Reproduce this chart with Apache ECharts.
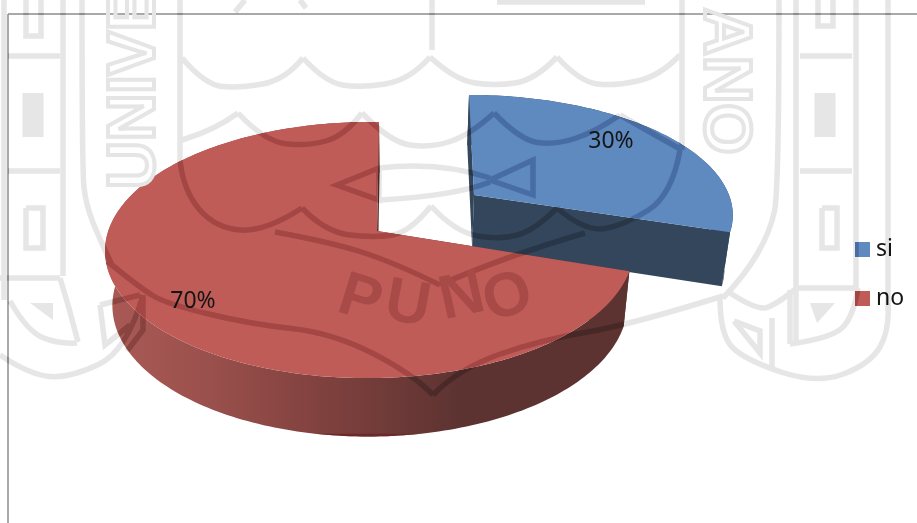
<!DOCTYPE html>
<html>
<head>
<meta charset="utf-8">
<style>html,body{margin:0;padding:0;background:#fff}#c{width:917px;height:523px}</style>
<script src="https://cdn.jsdelivr.net/npm/echarts@6/dist/echarts.min.js"></script>
</head>
<body>
<div id="c"></div>
<script>
// Survey answers, in percent
const categories = ['si', 'no'];
const values = [30, 70];
const total = values[0] + values[1];

// Projection of each exploded slice onto the page
const sliceLayout = [
  { ax: 474, ay: 195, A: 255, B: 5.74, C: 0, D: 114.9, p: 0.1485, q: 0, top: '#5e8ac0', wall: '#33465c', label: [611, 141] },
  { ax: 377, ay: 231, A: 261, B: -2.3, C: 0.7, D: 125.2, p: 0.1485, q: -0.028, top: '#c05c58', wall: null, label: [193, 301] }
];
const redWall = {
  type: 'linear', x: 0, y: 0, x2: 1, y2: 0,
  colorStops: [
    { offset: 0, color: '#aa5a56' }, { offset: 0.2, color: '#9a504c' },
    { offset: 0.4, color: '#82423f' }, { offset: 0.68, color: '#5c3331' }, { offset: 1, color: '#5c3331' }
  ]
};

function project(s, X, Z) {
  const w = 1 - s.p * Z - s.q * X;
  return [s.ax + (s.A * X + s.B * Z) / w, s.ay + (s.C * X + s.D * Z) / w];
}
// Lower face of the disc: same outline, moved down and slightly narrowed
function lower(pt) {
  return [pt[0] + (400 - pt[0]) * 0.025, pt[1] + 54 + 0.03 * (pt[1] - 231)];
}

function sliceShapes(index, value) {
  const s = sliceLayout[index];
  let before = 0;
  for (let i = 0; i < index; i++) before += values[i];
  const a0 = before / total * Math.PI * 2;
  const a1 = (before + value) / total * Math.PI * 2;
  const steps = Math.round((a1 - a0) / 0.02);
  const arc = [];
  for (let i = 0; i <= steps; i++) {
    const a = a0 + (a1 - a0) * i / steps;
    arc.push(project(s, Math.sin(a), -Math.cos(a)));
  }
  const apex = project(s, 0, 0);
  const fill = s.wall || redWall;
  const first = arc[0], last = arc[arc.length - 1];
  const poly = (pts, f) => ({ type: 'polygon', shape: { points: pts }, style: { fill: f } });
  const shapes = [
    poly([apex, first, lower(first), lower(apex)], s.wall || '#5c3331'),
    poly([apex, last, lower(last), lower(apex)], s.wall || '#5c3331'),
    poly(arc.concat(arc.map(lower).reverse()), fill)
  ];
  // Darker rim where the round side turns under, on the red disc only
  if (!s.wall) shapes.push(poly(arc.map(lower).filter(p => p[1] > 433), '#6b2a28'));
  shapes.push(
    poly([apex].concat(arc), s.top),
    {
      type: 'text', x: s.label[0], y: s.label[1],
      style: { text: value + '%', fill: '#151515', font: '23px "Noto Sans"', align: 'center', verticalAlign: 'middle' }
    }
  );
  return shapes;
}

const series = categories.map((name, i) => ({
  type: 'custom',
  name,
  coordinateSystem: 'none',
  silent: true,
  animation: false,
  itemStyle: { color: sliceLayout[i].top },
  data: [[values[i]]],
  renderItem: (params, api) => ({ type: 'group', children: sliceShapes(i, api.value(0)) })
}));

// Crest printed across the page: one path so crossings do not darken twice
const CrestLines = echarts.graphic.extendShape({
  shape: { curves: [], straights: [] },
  buildPath(ctx, shape) {
    shape.curves.forEach(l => {
      ctx.moveTo(l[0][0], l[0][1]);
      for (let i = 1; i < l.length - 1; i++) {
        const next = l[i + 1];
        const end = i === l.length - 2 ? next : [(l[i][0] + next[0]) / 2, (l[i][1] + next[1]) / 2];
        ctx.quadraticCurveTo(l[i][0], l[i][1], end[0], end[1]);
      }
    });
    shape.straights.forEach(l => {
      ctx.moveTo(l[0][0], l[0][1]);
      for (let i = 1; i < l.length; i++) ctx.lineTo(l[i][0], l[i][1]);
    });
  }
});
echarts.graphic.registerShape('crestLines', CrestLines);

const crestStraights = [
  // left column
  [[4, 0], [4, 300]], [[63, 0], [63, 276]], [[8, 56], [60, 56]], [[8, 171], [60, 171]], [[0, 278], [60, 278]],
  [[26, 0], [26, 36], [41, 36], [41, 0]],
  [[26, 208], [43, 208], [43, 248], [26, 248], [26, 208]],
  // right column
  [[796, 0], [796, 344]], [[856, 0], [856, 288]], [[888, 0], [888, 311]], [[800, 56], [852, 56]], [[800, 171], [852, 171]],
  [[818, 0], [818, 26], [833, 26], [833, 0]],
  [[822, 208], [837, 208], [837, 248], [822, 248], [822, 208]],
  // inner verticals
  [[180, 0], [180, 160]], [[682, 0], [682, 150]], [[432, 0], [432, 50]],
  // eye shapes
  [[379, 168], [337, 185], [379, 200], [379, 168]],
  [[490, 180], [533, 160], [533, 195], [490, 180]],
  // lower roundel details
  [[143, 295], [143, 330], [127, 351]],
  [[100, 305], [140, 295]], [[100, 305], [105, 345], [130, 325]],
  [[797, 288], [858, 288]], [[790, 290], [790, 344]],
  [[734, 321], [760, 331], [760, 353], [734, 321]],
  [[772, 318], [772, 370]],
  // scraps cut by the top edge
  [[235, 12], [245, 0]], [[300, 0], [306, 8]], [[497, 2], [645, 2]]
];
const crestCurves = [
  [[82, 0], [82, 170], [86, 205], [100, 240], [112, 265]],
  [[779, 0], [779, 190], [770, 232], [745, 275], [723, 298]],
  // upper scallops
  [[182, 58], [205, 85], [240, 88], [285, 80], [303, 58]],
  [[303, 58], [325, 82], [360, 88], [410, 80], [430, 57]],
  [[430, 57], [455, 80], [495, 86], [535, 80], [557, 57]],
  [[557, 57], [580, 82], [615, 86], [660, 76], [680, 55]],
  [[182, 140], [215, 130], [238, 113]],
  [[238, 113], [265, 142], [310, 146], [345, 135], [362, 113]],
  [[362, 113], [390, 142], [430, 148], [470, 135], [494, 113]],
  [[494, 113], [520, 140], [555, 145], [595, 132], [620, 115]],
  [[620, 115], [655, 135], [682, 150]],
  // lower scallops
  [[180, 160], [183, 190], [215, 228], [265, 232], [302, 208]],
  [[302, 208], [325, 232], [375, 238], [410, 232], [431, 206]],
  [[431, 206], [455, 232], [500, 240], [535, 230], [557, 208]],
  [[557, 208], [585, 232], [625, 225], [672, 195], [680, 150]],
  // cross bands through the middle
  [[275, 232], [330, 242], [393, 262], [440, 285]],
  [[440, 285], [500, 258], [585, 233]],
  // eye bands
  [[379, 168], [440, 161], [490, 178]], [[379, 200], [455, 196], [490, 182]],
  // long sweep round the lower disc
  [[107, 261], [140, 288], [167, 304], [250, 324], [333, 333], [413, 374], [433, 395]],
  [[433, 395], [458, 369], [540, 340], [630, 325], [723, 296]],
  // lower left roundel
  [[0, 355], [30, 375], [70, 378], [127, 351], [143, 295]],
  [[10, 301], [27, 331], [58, 344], [77, 343]],
  [[60, 278], [70, 310], [78, 342]],
  // lower right roundel
  [[720, 298], [720, 335], [745, 360], [817, 384], [870, 364], [890, 330], [888, 300]],
  [[727, 291], [757, 311], [777, 304], [797, 288]],
  [[790, 344], [834, 338], [854, 314], [858, 288]]
];
const crestBlocks = [
  [[33, 93], [33, 137]], [[825, 93], [825, 137]]
];
const crestWedges = [
  [[810, 303], [835, 303], [817, 323]], [[30, 303], [53, 303], [53, 320]]
];
const crestWords = [
  { text: 'UNIVE', x: 169, y: 189, r: Math.PI / 2, font: 'bold 66px "Liberation Sans"', outline: true },
  { text: 'ANO', x: 690, y: 8, r: -Math.PI / 2, font: 'bold 66px "Liberation Sans"', outline: true },
  { text: 'P', x: 331, y: 324, r: -0.3, font: 'bold 62px "Liberation Sans"' },
  { text: 'U', x: 380, y: 332, r: -0.18, font: 'bold 62px "Liberation Sans"' },
  { text: 'N', x: 447, y: 333, r: 0.22, font: 'bold 62px "Liberation Sans"' },
  { text: 'O', x: 494, y: 335, r: 0.3, font: 'bold 62px "Liberation Sans"' }
];

// Two passes: overlay leaves white alone and deepens the slices, multiply tints the paper
function crestPass(blend, shade, z) {
  const base = { z, silent: true };
  const out = [
    Object.assign({ type: 'crestLines', shape: { curves: crestCurves, straights: crestStraights }, style: { stroke: shade, fill: null, lineWidth: 5.5, blend } }, base),
    Object.assign({ type: 'crestLines', shape: { curves: [], straights: crestBlocks }, style: { stroke: shade, fill: null, lineWidth: 21, blend } }, base)
  ];
  crestWedges.forEach(pts => out.push(
    Object.assign({ type: 'polygon', shape: { points: pts }, style: { fill: shade, blend } }, base)
  ));
  return out;
}
// Lettering of the crest sits on plain paper or on the red disc, so flat tints do
const crestText = crestWords.map(w => ({
  type: 'text', z: 102, silent: true, x: w.x, y: w.y, rotation: w.r,
  style: w.outline
    ? { text: w.text, font: w.font, fill: 'rgba(0,0,0,0)', stroke: '#e5e5e5', lineWidth: 4, textVerticalAlign: 'bottom' }
    : { text: w.text, font: w.font, fill: '#a84a47', textVerticalAlign: 'bottom' }
}));

const frame = [
  { type: 'line', z: 90, silent: true, shape: { x1: 8, y1: 14, x2: 917, y2: 14 }, style: { stroke: '#8c8c8c', lineWidth: 1.5 } },
  { type: 'line', z: 90, silent: true, shape: { x1: 8, y1: 14, x2: 8, y2: 523 }, style: { stroke: '#8c8c8c', lineWidth: 1.5 } }
];

const chart = echarts.init(document.getElementById('c'), null, { renderer: 'canvas' });
chart.setOption({
  backgroundColor: '#ffffff',
  animation: false,
  legend: {
    data: categories,
    orient: 'vertical',
    left: 855,
    top: 238,
    icon: 'rect',
    itemWidth: 15,
    itemHeight: 15,
    itemGap: 26,
    padding: 0,
    selectedMode: false,
    textStyle: { fontFamily: 'Noto Sans', fontSize: 23, color: '#151515', padding: [0, 0, 0, 1] }
  },
  graphic: { elements: frame.concat(crestPass('overlay', '#6c6c6c', 100), crestPass('multiply', '#e6e6e6', 101), crestText) },
  series
});
</script>
</body>
</html>
